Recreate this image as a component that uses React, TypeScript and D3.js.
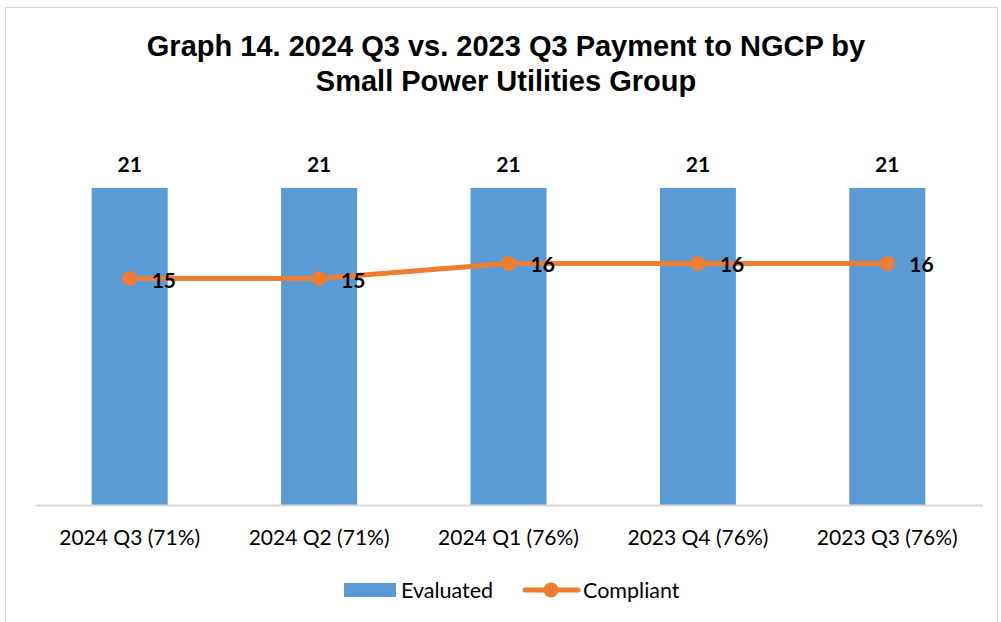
import React, { useEffect, useRef } from 'react';
import * as d3 from 'd3';

const categories = ['2024 Q3 (71%)', '2024 Q2 (71%)', '2024 Q1 (76%)', '2023 Q4 (76%)', '2023 Q3 (76%)'];
const evaluated = [21, 21, 21, 21, 21];
const compliant = [15, 15, 16, 16, 16];
const titleLines = ['Graph 14. 2024 Q3 vs. 2023 Q3 Payment to NGCP by', 'Small Power Utilities Group'];

const BLUE = '#5B9BD5';
const ORANGE = '#ED7D31';
const FONT = 'Lato, Carlito, sans-serif';

const App = () => {
  const svgRef = useRef<SVGSVGElement>(null);

  useEffect(() => {
    const w = 1001;
    const h = 622;
    const left = 35;
    const right = 982;
    const base = 505;

    const svg = d3.select(svgRef.current).attr('width', w).attr('height', h);
    svg.selectAll('*').remove();

    // chart frame
    svg.append('rect')
      .attr('x', 5.5).attr('y', 7.5)
      .attr('width', 992).attr('height', 630)
      .attr('fill', '#fff').attr('stroke', '#D9D9D9');

    svg.selectAll('text.title')
      .data(titleLines)
      .enter()
      .append('text')
      .attr('class', 'title')
      .attr('x', 506)
      .attr('y', (d, i) => 56 + i * 35)
      .attr('text-anchor', 'middle')
      .attr('font-family', '"Liberation Sans", Arial, sans-serif')
      .attr('font-weight', 'bold')
      .attr('font-size', 29)
      .text((d) => d);

    const x = d3.scaleBand<string>().domain(categories).range([left, right]).paddingInner(0.6).paddingOuter(0.3);
    const xc = (c: string) => (x(c) as number) + x.bandwidth() / 2;
    const y = d3.scaleLinear().domain([0, 25]).range([base, base - 25 * 15.1]);

    svg.selectAll('rect.bar')
      .data(evaluated)
      .enter()
      .append('rect')
      .attr('class', 'bar')
      .attr('x', (d, i) => xc(categories[i]) - 38)
      .attr('y', (d) => y(d))
      .attr('width', 76)
      .attr('height', (d) => base - y(d))
      .attr('fill', BLUE);

    svg.selectAll('text.barlab')
      .data(evaluated)
      .enter()
      .append('text')
      .attr('class', 'barlab')
      .attr('x', (d, i) => xc(categories[i]))
      .attr('y', (d) => y(d) - 16)
      .attr('text-anchor', 'middle')
      .attr('font-family', FONT)
      .attr('font-weight', 'bold')
      .attr('font-size', 21)
      .text((d) => d);

    // x axis
    const xAxis = d3.axisBottom(x).tickSize(0).tickPadding(25);
    const gx = svg.append('g').attr('transform', `translate(0,${base})`).call(xAxis);
    gx.select('.domain').attr('stroke', '#D9D9D9').attr('stroke-width', 2);
    gx.selectAll('text')
      .attr('font-family', FONT)
      .attr('font-size', 21)
      .attr('fill', '#000');

    const line = d3.line<number>()
      .x((d, i) => xc(categories[i]))
      .y((d) => y(d));

    svg.append('path')
      .datum(compliant)
      .attr('d', line)
      .attr('fill', 'none')
      .attr('stroke', ORANGE)
      .attr('stroke-width', 5)
      .attr('stroke-linecap', 'round');

    svg.selectAll('circle.pt')
      .data(compliant)
      .enter()
      .append('circle')
      .attr('class', 'pt')
      .attr('cx', (d, i) => xc(categories[i]))
      .attr('cy', (d) => y(d))
      .attr('r', 7.5)
      .attr('fill', ORANGE);

    svg.selectAll('text.ptlab')
      .data(compliant)
      .enter()
      .append('text')
      .attr('class', 'ptlab')
      .attr('x', (d, i) => xc(categories[i]) + 22)
      .attr('y', (d) => y(d) + 9)
      .attr('font-family', FONT)
      .attr('font-weight', 'bold')
      .attr('font-size', 21)
      .text((d) => d);

    // legend
    const lg = svg.append('g').attr('font-family', FONT).attr('font-size', 21.5);
    lg.append('rect').attr('x', 344).attr('y', 583).attr('width', 52).attr('height', 14).attr('fill', BLUE);
    lg.append('text').attr('x', 401).attr('y', 598).text('Evaluated');
    lg.append('line').attr('x1', 525).attr('x2', 578).attr('y1', 590).attr('y2', 590)
      .attr('stroke', ORANGE).attr('stroke-width', 5).attr('stroke-linecap', 'round');
    lg.append('circle').attr('cx', 551).attr('cy', 590).attr('r', 7.5).attr('fill', ORANGE);
    lg.append('text').attr('x', 583).attr('y', 598).text('Compliant');
  }, []);

  return (
    <div style={{ position: 'absolute', left: 0, top: 0 }}>
      <svg ref={svgRef} style={{ display: 'block' }}></svg>
    </div>
  );
};

export default App;
